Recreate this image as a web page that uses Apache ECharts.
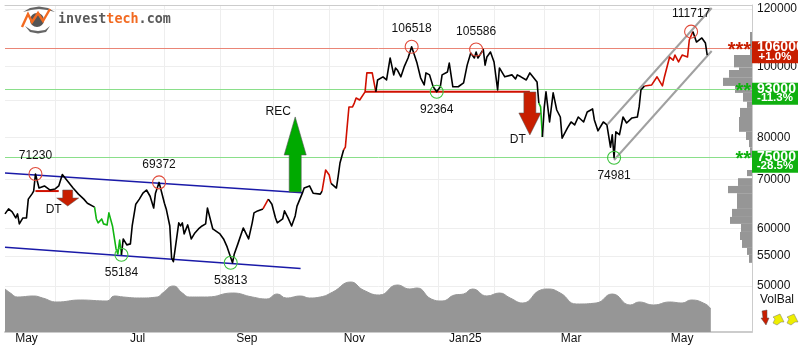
<!DOCTYPE html>
<html>
<head>
<meta charset="utf-8">
<title>investtech chart</title>
<style>
  html, body { margin: 0; padding: 0; background: #fff; }
  #chart { width: 802px; height: 352px; }
</style>
<script src="https://cdn.jsdelivr.net/npm/echarts@6/dist/echarts.min.js"></script>
</head>
<body>
<div id="chart"></div>
<script>
// x axis is calendar days counted from 4 May 2024
const closeDays = [
  0,2,4,6,7,8,9,10,12,13,
  15,16,17,19,20,22,25,28,30,32,
  35,38,41,44,46,50,51,52,54,55,
  57,58,59,60,62,63,64,65,66,68,
  70,71,73,75,77,79,81,83,84,86,
  88,89,90,92,93,94,95,97,98,99,
  100,102,104,106,108,110,112,113,114,116,
  120,122,124,127,128,130,133,136,138,139,
  141,144,147,149,151,152,155,156,158,160,
  162,163,166,167,170,172,176,177,179,180,
  181,182,185,186,187,189,190,191,192,194,
  195,196,198,201,202,203,205,207,208,211,
  213,215,217,218,219,221,223,225,227,230,
  232,234,235,237,239,241,243,244,247,248,
  250,253,256,258,260,262,263,264,267,268,
  269,271,273,275,276,279,280,283,285,286,
  288,291,293,297,298,299,300,301,302,304,
  306,308,310,311,314,316,318,320,323,325,
  328,329,331,334,336,338,339,340,341,343,
  345,347,350,353,354,355,357,361,364,367,
  368,371,373,374,376,378,381,382,384,386,
  389,391,392
];
const closeValues = [
  62800,63800,63200,62000,62800,60850,60650,62000,62000,65800,
  66850,67500,71230,68150,67950,68600,67730,67950,68600,71100,
  69650,68150,66850,65800,64950,64150,61800,61050,61800,60850,
  60650,63000,63000,60450,56220,55340,57830,55184,58020,56940,
  57120,60450,64750,65800,67050,67730,66400,63970,67050,69372,
  66400,64950,63800,60450,54640,54000,56220,61050,60450,61050,
  58950,60650,58020,59130,59880,60450,60850,63970,63970,59880,
  58950,58020,56580,53813,55340,57120,60070,58020,61050,63000,
  63400,63800,65800,64750,62000,61050,61800,63400,62000,60450,
  62400,64350,67050,68150,68600,67050,66850,67500,72150,72150,
  71000,69150,68150,70760,73760,76860,77550,82680,88050,88050,
  89130,90590,90010,92350,98050,98650,98050,92350,95890,96850,
  95890,102800,97450,99600,98960,96850,100200,102800,106518,101150,
  96550,94400,98050,97450,93850,92364,93850,97450,98350,101150,
  93850,93850,95000,100500,104400,102800,104750,102800,105586,100500,
  103100,104750,101500,92900,99600,96850,96550,97450,96200,97450,
  96850,95890,98050,95300,89130,88050,80090,87780,92350,83970,
  92050,87210,85300,79800,82400,83970,83200,85300,83970,86650,
  87500,84500,81650,83970,83200,77550,80650,74981,81400,80650,
  85300,83700,85050,85300,88050,92900,94100,94400,96850,94100,
  96550,103100,102100,103760,101500,103760,103100,108800,111717,108100,
  109500,107760,103760
];
// trend colour changes along the price line
const trendStarts = [0, 50, 65, 144, 147, 177, 182, 189, 207, 298, 300, 357, 384];
const trendColors = ['#000', '#11b511', '#000', '#d01000', '#000', '#d01000', '#000', '#d01000', '#000', '#11b511', '#000', '#d01000', '#000'];

// turnover, no scale shown in the picture so the unit is arbitrary
const volumeDays = [0,3,7,16,21,29,42,57,61,66,75,85,88,94,99,103,113,127,138,146,152,157,165,170,176,183,193,200,209,219,226,230,238,244,251,256,261,269,276,282,289,299,303,310,319,330,339,349,354,362,371,378,383,391,394];
const volumeLevels = [43,39,35,36,34,30,32,31,36,35,34,35,39,46,39,35,35,39,35,33,38,34,36,34,35,40,50,42,37,47,43,44,33,31,37,38,43,36,39,34,29,42,43,39,28,29,38,27,30,27,30,29,32,28,23];

// price-volume histogram on the right edge
const binLow = [103760,99800,98960,96550,94100,92050,89540,87780,85300,81400,79330,77550,75000,70760,68600,67050,63800,62200,60850,59320,57830,56400,55170,53800];
const binHigh = [111550,103760,99800,98960,96550,94100,92050,89540,87780,85300,81400,79330,77550,72150,70300,68600,67050,63800,62200,60850,59320,57830,56400,55170];
const binVolume = [2,18,13,23,29,17,9,5,12,13,6,3,2,5,14,24,15,20,22,11,12,10,5,3];

const yTicks = [50000, 55000, 60000, 70000, 80000, 90000, 100000, 120000];
const yLabels = [50000, 55000, 60000, 70000, 80000, 100000, 120000];
const monthStarts = [28, 58, 89, 120, 150, 181, 211, 242, 273, 301, 332, 362, 393];
const monthLabelDays = [12, 74, 135, 195, 257, 316, 378];
const monthLabels = ['May', 'Jul', 'Sep', 'Nov', 'Jan25', 'Mar', 'May'];

const levelValues = [106000, 93000, 75000];
const levelChange = ['+1.0%', '-11.3%', '-28.5%'];
const levelStars = ['***', '**', '**'];
const levelColors = ['#c81e00', '#0fb00f', '#0fb00f'];
const levelLineColors = ['#ea8576', '#8adf8a', '#8adf8a'];

const peakDays = [17, 86, 227, 263, 383];
const peakValues = [71230, 69372, 106518, 105586, 111717];
const troughDays = [65, 126, 241, 340];
const troughValues = [55184, 53813, 92364, 74981];

const blueUpper = [[0, 71470], [166, 67160]];
const blueLower = [[0, 56520], [165, 52830]];
const grayUpper = [[336.5, 83440], [394.5, 120380]];
const grayLower = [[340, 74470], [394.5, 105080]];
const breakSmall = [[17, 67500], [30, 67500]];
const breakBig = [[201, 92350], [293, 92350]];

const signalNames = ['REC', 'DT', 'DT'];
const signalDays = [162, 35, 293];
const signalValues = [75780, 66030, 86250];

const signalStyles = [
  { path: 'path://M11 0L22 38L17 38L17 75L5 75L5 38L0 38Z', size: [22, 75], color: '#00aa00', offset: [-17, -42.5] },
  { path: 'path://M6 0L16 0L16 8L22 8L11 16L0 8L6 8Z', size: [22, 16], color: '#c81e00', offset: [-14, 12] },
  { path: 'path://M5 0L17 0L17 21L22 21L11 43L0 21L5 21Z', size: [22, 43], color: '#c81e00', offset: [-12, 26.5] }
];

const font = 'Liberation Sans, Arial, sans-serif';
const pricePoints = closeDays.map((d, i) => [d, closeValues[i]]);

function straight(name, data, color, width) {
  return {
    name, type: 'line', data, symbol: 'none', silent: true,
    lineStyle: { color, width }, z: 3
  };
}

const trendSeries = trendStarts.map((from, i) => {
  const to = i + 1 < trendStarts.length ? trendStarts[i + 1] : Infinity;
  return {
    type: 'line', symbol: 'none', silent: true, z: 5,
    lineStyle: { color: trendColors[i], width: 1.6, join: 'round' },
    data: pricePoints.filter(p => p[0] >= from && p[0] <= to)
  };
});

function turningPoints(days, values, color, position) {
  return {
    type: 'scatter', symbol: 'circle', symbolSize: 13, z: 6, silent: true,
    itemStyle: { color: 'transparent', borderColor: color, borderWidth: 1.1, opacity: 1 },
    label: {
      show: true, position, distance: 5, color: '#111', fontFamily: font, fontSize: 12,
      formatter: p => String(p.value[1])
    },
    data: days.map((d, i) => [d, values[i]])
  };
}

const signalSeries = signalNames.map((name, i) => ({
  type: 'scatter', silent: true, z: 6,
  symbol: signalStyles[i].path,
  symbolSize: signalStyles[i].size,
  itemStyle: { color: signalStyles[i].color, borderColor: '#555', borderWidth: 0.5, opacity: 1 },
  label: {
    show: true, position: 'inside', offset: signalStyles[i].offset,
    color: '#111', fontFamily: font, fontSize: 12, formatter: name
  },
  data: [[signalDays[i], signalValues[i]]]
}));

const option = {
  animation: false,
  backgroundColor: '#fff',
  grid: { left: 5, right: 50, top: 5, bottom: 20 },
  xAxis: [
    {
      type: 'value', min: 0, max: 417,
      axisLine: { show: true, onZero: false, lineStyle: { color: '#ccc', width: 2 } },
      axisTick: { show: false, customValues: monthStarts },
      axisLabel: {
        margin: 1, color: '#111', fontFamily: font, fontSize: 12,
        customValues: monthLabelDays,
        formatter: v => monthLabels[monthLabelDays.indexOf(v)]
      },
      splitLine: { show: true, lineStyle: { color: '#eeeeee' } }
    },
    {
      // width of the histogram bars, runs leftwards from the right edge
      type: 'value', position: 'top', min: 0, max: 747, inverse: true,
      axisLine: { show: true, onZero: false, lineStyle: { color: '#ccc', width: 1 } },
      axisTick: { show: false }, axisLabel: { show: false }, splitLine: { show: false }
    }
  ],
  yAxis: [
    {
      type: 'log', position: 'right', min: 43237, max: 121526,
      axisLine: { show: true, onZero: false, lineStyle: { color: '#ccc' } },
      axisTick: { show: false, customValues: yTicks },
      axisLabel: {
        margin: 5, color: '#111', fontFamily: font, fontSize: 12,
        customValues: yLabels,
        formatter: v => String(Math.round(v))
      },
      splitLine: { show: true, lineStyle: { color: '#eeeeee' } }
    },
    { type: 'value', min: 0, max: 327, show: false }
  ],
  graphic: [
    // logo
    { type: 'polygon', z: 1, shape: { points: [[23, 12], [30, 8], [39, 6.5], [48, 8], [55, 12], [47, 10], [39, 9], [31, 10]] }, style: { fill: '#666' } },
    { type: 'polygon', z: 1, shape: { points: [[25, 26], [31, 30], [38, 31], [45, 30], [50, 26], [46, 32], [38, 33.5], [30, 32]] }, style: { fill: '#666' } },
    { type: 'circle', z: 1, shape: { cx: 37, cy: 20, r: 7 }, style: { fill: '#555' } },
    { type: 'polyline', z: 2, shape: { points: [[22, 27], [28, 14], [32, 22], [38, 13], [43, 21], [50, 9]] }, style: { stroke: '#f26a21', lineWidth: 2.4, fill: null } },
    {
      type: 'text', z: 2, x: 58, y: 20,
      style: {
        verticalAlign: 'middle',
        rich: {
          a: { fill: '#5a5a5a', font: 'bold 13.4px "DejaVu Sans Mono"' },
          b: { fill: '#f26a21', font: 'bold 13.4px "DejaVu Sans Mono"' }
        },
        text: '{a|invest}{b|tech}{a|.com}'
      }
    },
    // VolBal indicator
    { type: 'text', x: 777, y: 300, style: { text: 'VolBal', fill: '#111', font: '12px ' + font, align: 'center', verticalAlign: 'middle' } },
    { type: 'polygon', shape: { points: [[762, 311], [767, 310], [767, 318], [769, 318], [766, 325], [761, 318], [763, 318]] }, style: { fill: '#c81e00', stroke: '#555', lineWidth: 0.5 } },
    { type: 'polygon', shape: { points: [[780, 314], [784, 322], [781, 322], [777, 325], [773, 323], [775, 319], [773, 317]] }, style: { fill: '#eeee00', stroke: '#777', lineWidth: 0.5 } },
    { type: 'polygon', shape: { points: [[794, 314], [798, 322], [795, 322], [791, 325], [787, 323], [789, 319], [787, 317]] }, style: { fill: '#eeee00', stroke: '#777', lineWidth: 0.5 } }
  ],
  series: [
    {
      name: 'volume', type: 'line', yAxisIndex: 1, smooth: 0.5, symbol: 'none', silent: true, z: 1,
      lineStyle: { color: '#969696', width: 1 },
      areaStyle: { color: '#969696', opacity: 1 },
      data: volumeDays.map((d, i) => [d, volumeLevels[i]])
    },
    {
      name: 'histogram', type: 'custom', xAxisIndex: 1, yAxisIndex: 0, silent: true, z: 1,
      data: binVolume.map((v, i) => [v, binLow[i], binHigh[i]]),
      encode: { x: 0, y: [1, 2] },
      renderItem: (params, api) => {
        const a = api.coord([api.value(0), api.value(2)]);
        const b = api.coord([0, api.value(1)]);
        return {
          type: 'rect',
          shape: { x: a[0], y: a[1], width: b[0] - a[0], height: b[1] - a[1] },
          style: { fill: '#969696' }
        };
      }
    },
    {
      name: 'levels', type: 'line', symbol: 'none', silent: true, data: [], z: 2,
      markLine: {
        silent: true, symbol: 'none', animation: false, label: { show: false },
        data: levelValues.map((v, i) => ({ yAxis: v, lineStyle: { color: levelLineColors[i], width: 1, type: 'solid', opacity: 1 } }))
      }
    },
    straight('upper trend', blueUpper, '#1a1aa8', 1.5),
    straight('lower trend', blueLower, '#1a1aa8', 1.5),
    straight('rising upper', grayUpper, '#a0a0a0', 2),
    straight('rising lower', grayLower, '#a0a0a0', 2),
    straight('break small', breakSmall, '#d01000', 2),
    straight('break big', breakBig, '#d01000', 2),
    ...trendSeries,
    turningPoints(peakDays, peakValues, '#e04a3a', 'top'),
    turningPoints(troughDays, troughValues, '#3cc23c', 'bottom'),
    ...signalSeries,
    {
      name: 'level boxes', type: 'custom', xAxisIndex: 1, yAxisIndex: 0, silent: true, z: 8,
      data: levelValues.map((v, i) => [0, v, i]),
      encode: { x: 0, y: 1 },
      renderItem: (params, api) => {
        const i = api.value(2);
        const p = api.coord([0, api.value(1)]);
        return {
          type: 'group',
          children: [
            { type: 'rect', shape: { x: p[0], y: p[1] - 7, width: 46, height: 22 }, style: { fill: levelColors[i] } },
            { type: 'text', style: { x: p[0] + 5, y: p[1] - 1, text: String(levelValues[i]), fill: '#fff', font: 'bold 14px ' + font, verticalAlign: 'middle' } },
            { type: 'text', style: { x: p[0] + 23, y: p[1] + 8.5, text: levelChange[i], fill: '#fff', font: 'bold 11.5px ' + font, align: 'center', verticalAlign: 'middle' } },
            { type: 'text', style: { x: p[0] - 1, y: p[1] + 2, text: levelStars[i], fill: levelColors[i], font: 'bold 20px ' + font, align: 'right', verticalAlign: 'middle' } }
          ]
        };
      }
    }
  ]
};

const mychart = echarts.init(document.getElementById('chart'));
mychart.setOption(option);
</script>
</body>
</html>
